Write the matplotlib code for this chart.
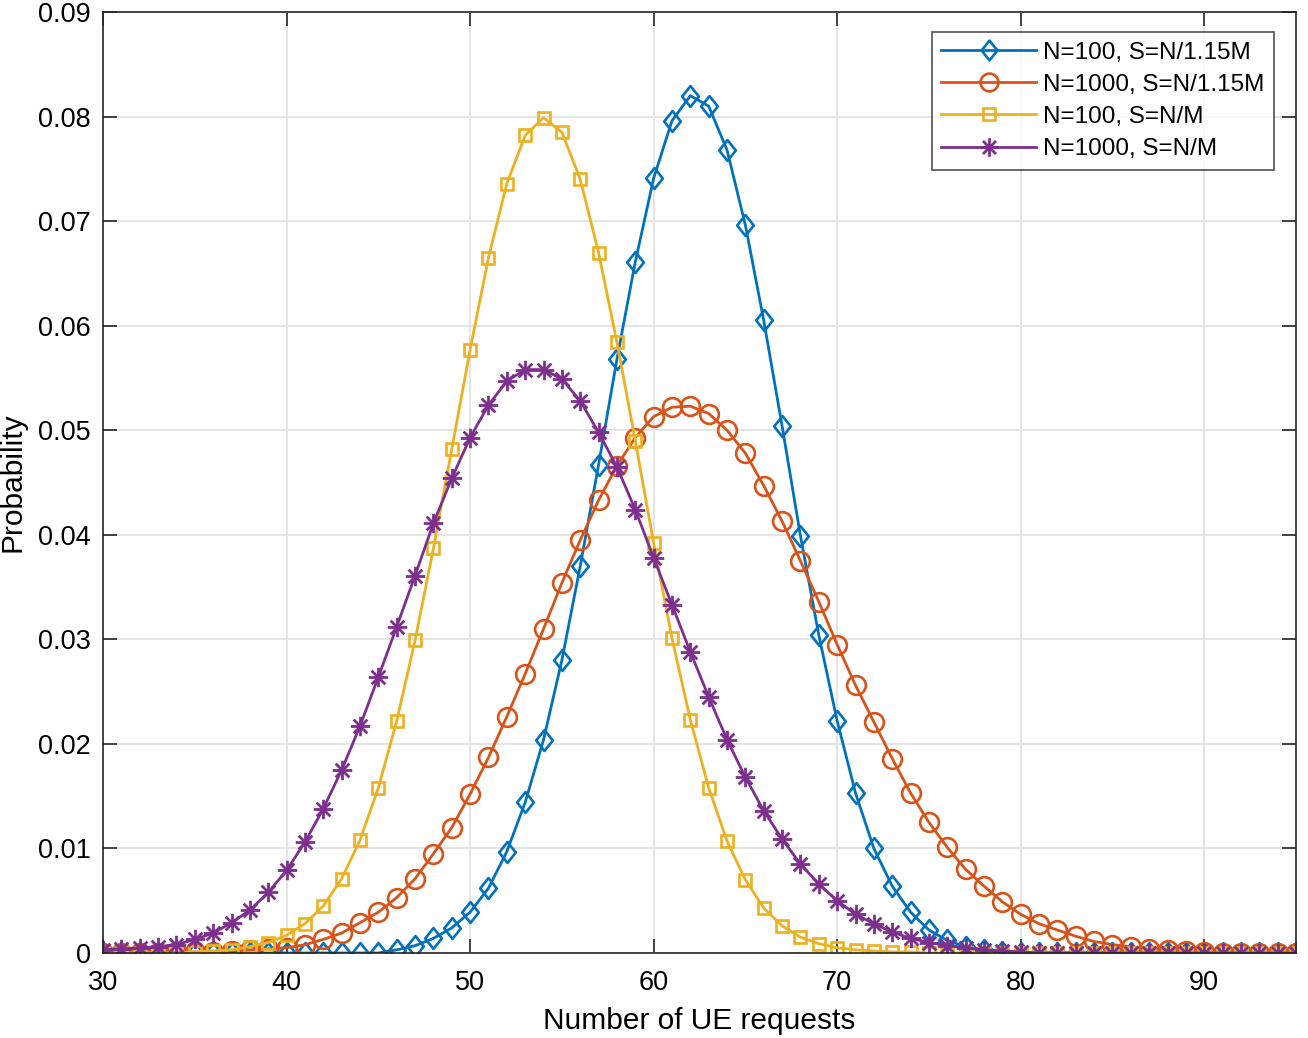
import matplotlib
matplotlib.use("Agg")
import matplotlib.pyplot as plt
import numpy as np
from matplotlib.path import Path

plt.rcParams['font.family'] = ['Liberation Sans', 'DejaVu Sans']

# x axis: number of UE requests
x = np.arange(30, 96)

# N=100, S=N/1.15M (values from 30 to 95)
blue = [0]*15 + [
    0.0000, 0.0003, 0.0007, 0.0014, 0.0024, 0.0039, 0.0062, 0.0097, 0.0144, 0.0204,
    0.0280, 0.0370, 0.0467, 0.0568, 0.0661, 0.0741, 0.0796, 0.0820, 0.0810, 0.0768,
    0.0696, 0.0605, 0.0504, 0.0399, 0.0304, 0.0222, 0.0153, 0.0100, 0.0064, 0.0039,
    0.0022, 0.0012, 0.0006, 0.0003, 0.0001] + [0]*16

# N=1000, S=N/1.15M
orange = [
    0.0000, 0.0000, 0.0000, 0.0000, 0.0001, 0.0001, 0.0001, 0.0002, 0.0003, 0.0004,
    0.0005, 0.0008, 0.0013, 0.0019, 0.0029, 0.0039, 0.0053, 0.0071, 0.0095, 0.0120,
    0.0152, 0.0187, 0.0226, 0.0267, 0.0310, 0.0354, 0.0395, 0.0433, 0.0466, 0.0493,
    0.0513, 0.0522, 0.0523, 0.0516, 0.0500, 0.0478, 0.0447, 0.0413, 0.0375, 0.0336,
    0.0295, 0.0256, 0.0221, 0.0186, 0.0153, 0.0125, 0.0101, 0.0080, 0.0064, 0.0049,
    0.0037, 0.0028, 0.0022, 0.0016, 0.0011, 0.0008, 0.0006, 0.0004, 0.0003, 0.0002,
    0.0001, 0.0000, 0.0000, 0.0000, 0.0000, 0.0000]

# N=100, S=N/M
yellow = [
    0.0000, 0.0000, 0.0000, 0.0000, 0.0000, 0.0001, 0.0002, 0.0003, 0.0006, 0.0010,
    0.0017, 0.0028, 0.0045, 0.0071, 0.0108, 0.0158, 0.0222, 0.0299, 0.0387, 0.0482,
    0.0577, 0.0665, 0.0736, 0.0782, 0.0799, 0.0785, 0.0740, 0.0670, 0.0584, 0.0490,
    0.0392, 0.0301, 0.0223, 0.0158, 0.0107, 0.0070, 0.0043, 0.0026, 0.0015, 0.0009,
    0.0005, 0.0003, 0.0002, 0.0001, 0.0001] + [0]*21

# N=1000, S=N/M
purple = [
    0.0003, 0.0004, 0.0005, 0.0006, 0.0008, 0.0013, 0.0019, 0.0029, 0.0041, 0.0058,
    0.0079, 0.0106, 0.0138, 0.0175, 0.0217, 0.0264, 0.0312, 0.0361, 0.0411, 0.0454,
    0.0493, 0.0524, 0.0547, 0.0558, 0.0558, 0.0549, 0.0528, 0.0498, 0.0465, 0.0424,
    0.0378, 0.0333, 0.0288, 0.0245, 0.0204, 0.0168, 0.0136, 0.0109, 0.0085, 0.0066,
    0.0050, 0.0037, 0.0028, 0.0020, 0.0014, 0.0010, 0.0007, 0.0005, 0.0003, 0.0002,
    0.0001] + [0]*15

labels = ['N=100, S=N/1.15M', 'N=1000, S=N/1.15M', 'N=100, S=N/M', 'N=1000, S=N/M']
colors = ['#0072BD', '#D95319', '#EDB120', '#7E2F8E']

# asterisk marker like matlab's '*'
verts = []
codes = []
for ang in [0, 45, 90, 135]:
    a = np.deg2rad(ang)
    verts += [(-np.cos(a), -np.sin(a)), (np.cos(a), np.sin(a))]
    codes += [Path.MOVETO, Path.LINETO]
star = Path(verts, codes)

# matlab diamond, a bit taller than wide
diamond = Path([(0, 1), (0.8, 0), (0, -1), (-0.8, 0), (0, 1)],
               [Path.MOVETO, Path.LINETO, Path.LINETO, Path.LINETO, Path.CLOSEPOLY])

fig = plt.figure(figsize=(13.08, 10.38), dpi=100)
ax = fig.add_axes([0.0788, 0.0819, 0.912, 0.9065])

lw = 2.0
ax.plot(x, blue, color=colors[0], lw=lw, marker=diamond, ms=15, mfc='none', mew=1.9, label=labels[0])
ax.plot(x, orange, color=colors[1], lw=lw, marker='o', ms=13.5, mfc='none', mew=1.9, label=labels[1])
ax.plot(x, yellow, color=colors[2], lw=lw, marker='s', ms=9, mfc='none', mew=1.9, label=labels[2])
ax.plot(x, purple, color=colors[3], lw=lw, marker=star, ms=14, mfc='none', mew=2.0, label=labels[3])

ax.set_xlim(30, 95)
ax.set_ylim(0, 0.09)
ax.set_xticks(np.arange(30, 91, 10))
ax.set_yticks(np.arange(0, 0.091, 0.01))
ax.set_yticklabels(['0'] + ['%.2f' % v for v in np.arange(0.01, 0.091, 0.01)])

ax.grid(True, color='#e3e3e3', lw=1.3)
ax.set_axisbelow(True)
for s in ax.spines.values():
    s.set_color('#262626')
    s.set_linewidth(1.2)
ax.tick_params(direction='in', top=True, right=True, length=10, width=1.2,
               labelsize=19.5, colors='#262626', labelcolor='black')
ax.tick_params(axis='x', pad=12)
ax.tick_params(axis='y', pad=9)

ax.set_xlabel('Number of UE requests', fontsize=21.5, labelpad=8)
ax.set_ylabel('Probability', fontsize=21.5, labelpad=8)

leg = ax.legend(loc='upper right', bbox_to_anchor=(0.982, 0.979), fontsize=17.5,
                frameon=True, fancybox=False, edgecolor='#262626', handlelength=3.9,
                borderpad=0.4, labelspacing=0.42, handletextpad=0.3, borderaxespad=0)
leg.get_frame().set_linewidth(1.2)
for h in leg.legend_handles:
    h.set_markersize(h.get_markersize() * 0.95)

fig.savefig('out.png', dpi=100)
